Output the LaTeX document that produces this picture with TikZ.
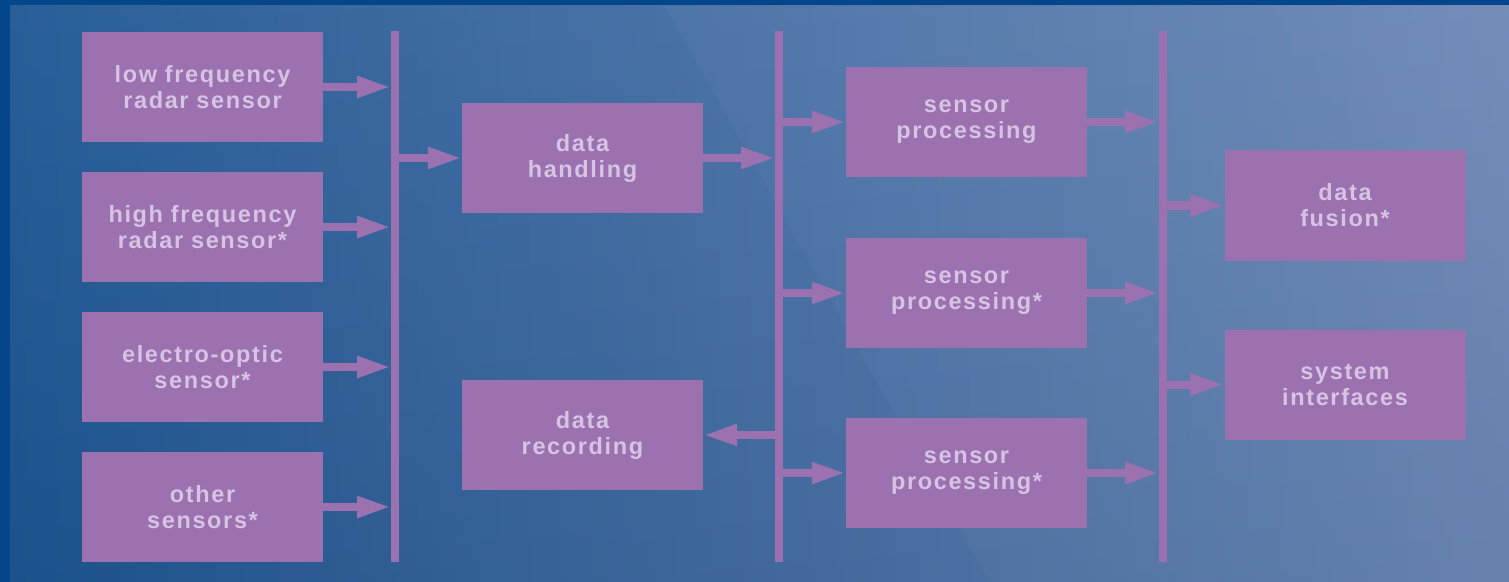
\documentclass[tikz,border=0pt]{standalone}
\usepackage{fontspec}
\newfontfamily\boxfont{Liberation Sans}[LetterSpace=7,WordSpace=1.3]
\usetikzlibrary{arrows.meta}
\definecolor{frameblue}{HTML}{03478A}
\definecolor{bgleft}{HTML}{1E5693}
\definecolor{bgright}{HTML}{6A86B5}
\definecolor{boxpurple}{HTML}{9B71B0}
\definecolor{boxtext}{HTML}{D7C3E3}
\tikzset{
  blockbox/.style={fill=boxpurple, draw=none, inner sep=0pt,
    minimum width=241bp, minimum height=110bp, text width=235bp,
    align=center, text=boxtext,
    font=\boxfont\bfseries\fontsize{23.5bp}{26bp}\selectfont},
  busline/.style={draw=boxpurple, line width=8bp},
  flowarrow/.style={draw=boxpurple, line width=8bp,
    -{Triangle[length=34bp,width=20bp]}}
}
\begin{document}
\begin{tikzpicture}[x=1bp,y=-1bp]
\useasboundingbox (0,0) rectangle (1509,582);
% background
\fill[frameblue] (-10,-10) rectangle (1520,592);
\shade[left color=bgleft, right color=bgright] (10,6) rectangle (1520,592);
\shade[top color=white, bottom color=black, fill opacity=0.05] (10,6) rectangle (1520,592);
\fill[white, fill opacity=0.025] (665,6) -- (1520,6) -- (1520,592) -- (995,592) -- cycle;

% buses
\coordinate (b1top) at (395,31);
\coordinate (b1bot) at (395,562);
\coordinate (b2top) at (779,31);
\coordinate (b2bot) at (779,562);
\coordinate (b3top) at (1163,31);
\coordinate (b3bot) at (1163,562);
\draw[busline] (b1top) -- (b1bot);
\draw[busline] (b2top) -- (b2bot);
\draw[busline] (b3top) -- (b3bot);

% boxes
\node[blockbox] (lf) at (202.5,87) {low frequency\\radar sensor};
\node[blockbox] (hf) at (202.5,227) {high frequency\\radar sensor*};
\node[blockbox] (eo) at (202.5,367) {electro-optic\\sensor*};
\node[blockbox] (os) at (202.5,507) {other\\sensors*};
\node[blockbox] (dh) at (582.5,158) {data\\handling};
\node[blockbox] (dr) at (582.5,435) {data\\recording};
\node[blockbox] (sp1) at (966.5,122) {sensor\\processing};
\node[blockbox] (sp2) at (966.5,293) {sensor\\processing*};
\node[blockbox] (sp3) at (966.5,473) {sensor\\processing*};
\node[blockbox] (df) at (1345,205.5) {data\\fusion*};
\node[blockbox] (si) at (1345,384.5) {system\\interfaces};

% arrows into bus 1
\foreach \n in {lf,hf,eo,os}
  \draw[flowarrow, shorten >=4bp] (\n.east) -- (\n.east -| b1top);
% bus 1 to data handling
\draw[flowarrow] (dh.west -| b1top) -- (dh.west);
% data handling to bus 2
\draw[flowarrow, shorten >=4bp] (dh.east) -- (dh.east -| b2top);
% bus 2 to data recording
\draw[flowarrow] (dr.east -| b2top) -- (dr.east);
% bus 2 to sensor processing, and on to bus 3
\foreach \n in {sp1,sp2,sp3} {
  \draw[flowarrow] (\n.west -| b2top) -- (\n.west);
  \draw[flowarrow, shorten >=4bp] (\n.east) -- (\n.east -| b3top);
}
% bus 3 to outputs
\draw[flowarrow] (df.west -| b3top) -- (df.west);
\draw[flowarrow] (si.west -| b3top) -- (si.west);
\end{tikzpicture}
\end{document}
